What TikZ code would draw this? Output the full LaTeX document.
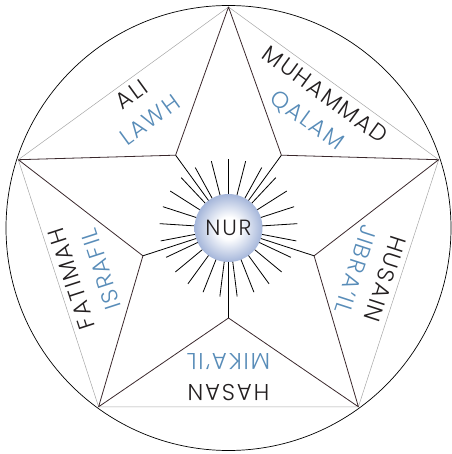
\documentclass[tikz,border=0pt]{standalone}
\usepackage{fontspec}
\newfontfamily\labelfont{Poppins Light}[LetterSpace=8]
\usepackage{tikz}

\definecolor{nurblue}{RGB}{165,182,218}
\definecolor{angelblue}{RGB}{88,140,184}
\definecolor{starline}{RGB}{58,40,44}
\definecolor{textdark}{RGB}{35,31,32}
\pgfdeclareradialshading{nurglow}{\pgfpoint{0bp}{0bp}}{color(0bp)=(white); color(8bp)=(white); color(25bp)=(nurblue); color(50bp)=(nurblue)}

\begin{document}
\begin{tikzpicture}[x=1pt, y=1pt,
    name label/.style={text=textdark, font=\labelfont\fontsize{23}{26}\selectfont, text depth=0pt, inner sep=0pt},
    angel label/.style={name label, text=angelblue},
    ray/.style={line width=0.8pt, black}]
        \useasboundingbox (-228.5,-226) rectangle (222.5,228);

        % Circle and corners
        \draw[line width=0.7pt] (0,0) circle (222.5);
        \coordinate (centre) at (0,0);
        \foreach \k in {0,...,4} {
            \coordinate (o\k) at (90+72*\k:221);
            \coordinate (i\k) at (126+72*\k:90);
        }

        % Pentagon
        \draw[gray!70, line width=0.5pt] (o0) -- (o1) -- (o2) -- (o3) -- (o4) -- cycle;

        % Star
        \draw[starline, line width=0.8pt, line join=round]
            (o0) -- (i0) -- (o1) -- (i1) -- (o2) -- (i2) -- (o3) -- (i3) -- (o4) -- (i4) -- cycle;
        \foreach \k in {0,...,4}
            \draw[ray] (i\k) -- (centre);

        % Rays
        \foreach \i in {0,...,24}
            \draw[ray] (90+14.4*\i:25) -- (90+14.4*\i:69);

        % Nur
        \node[circle, minimum size=68pt, inner sep=0pt, shading=nurglow,
              font=\labelfont\fontsize{22}{25}\selectfont, text=textdark] (nur) at (centre) {NUR};

        % Names
        \foreach \ang/\upper/\lower in {54/MUHAMMAD/QALAM, 126/ALI/LAWH, 198/FATIMAH/ISRAFIL,
                                        270/HASAN/MIKA’IL, 342/HUSAIN/JIBRA’IL} {
            \node[name label, rotate=\ang-90] (name-\ang) at (\ang:165) {\upper};
            \node[angel label, rotate=\ang-90] (angel-\ang) at (\ang:134) {\lower};
        }
    \end{tikzpicture}
\end{document}
